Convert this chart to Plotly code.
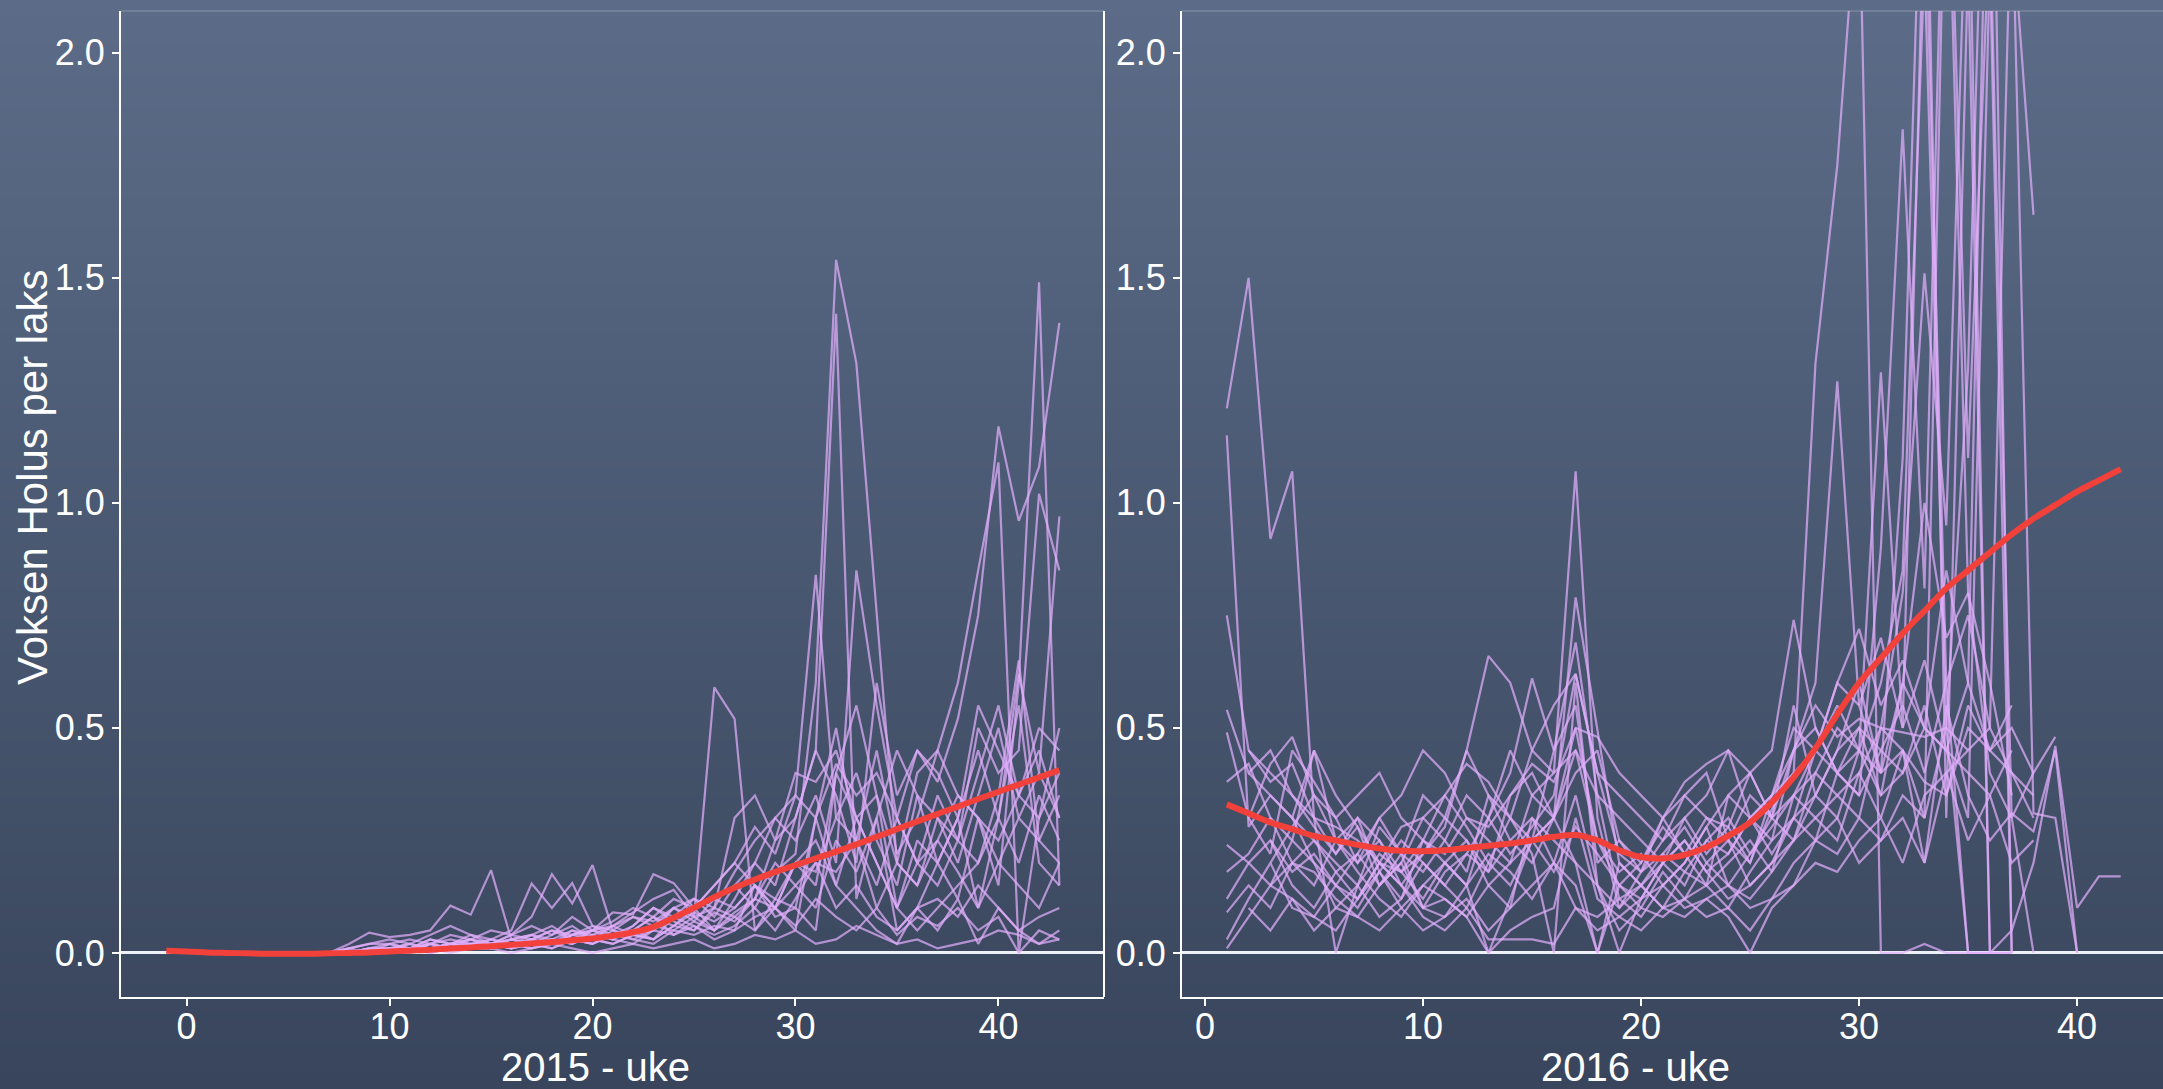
import base64
import struct
import zlib

import plotly.graph_objects as go

# ---------------------------------------------------------------- data
uke_2015 = list(range(7, 44))
uke_2016 = list(range(1, 43))

# loess trend per year
trend_uke_2015 = list(range(-1, 44))
trend_2015 = [0.005, 0.003, 0.001, 0.0, -0.001, -0.002, -0.002, -0.002, -0.001, 0.0,
              0.001, 0.003, 0.005, 0.007, 0.010, 0.012, 0.015, 0.018, 0.021, 0.024,
              0.028, 0.032, 0.038, 0.046, 0.058, 0.078, 0.100, 0.124, 0.145, 0.163,
              0.180, 0.195, 0.210, 0.225, 0.241, 0.258, 0.275, 0.292, 0.309, 0.325,
              0.342, 0.358, 0.374, 0.390, 0.406]
trend_uke_2016 = list(range(1, 43))
trend_2016 = [0.330, 0.310, 0.290, 0.275, 0.260, 0.250, 0.240, 0.232, 0.227, 0.226,
              0.228, 0.233, 0.238, 0.243, 0.250, 0.258, 0.262, 0.250, 0.228, 0.213,
              0.210, 0.218, 0.235, 0.260, 0.290, 0.335, 0.390, 0.455, 0.530, 0.600,
              0.655, 0.710, 0.760, 0.810, 0.850, 0.890, 0.930, 0.965, 0.995, 1.025,
              1.050, 1.075]

# 2015, one list per site, weeks 7..43
lok15_01 = [0, 0, 0.01, 0.01, 0.02, 0.01, 0.02, 0.03, 0.02, 0.01,
            0.02, 0.03, 0.02, 0.04, 0.03, 0.05, 0.08, 0.06, 0.10, 0.12,
            0.15, 0.10, 0.18, 0.22, 0.60, 1.54, 1.31, 0.75, 0.20, 0.15,
            0.30, 0.25, 0.40, 0.55, 0.35, 0.50, 0.45]
lok15_02 = [0, 0, 0, 0.01, 0.01, 0, 0.01, 0.02, 0.01, 0.02,
            0.01, 0.02, 0.04, 0.03, 0.02, 0.04, 0.06, 0.05, 0.08, 0.05,
            0.12, 0.20, 0.15, 0.30, 0.45, 1.42, 0.12, 0.30, 0.05, 0.10,
            0.20, 0.12, 0.30, 0.20, 0.15, 0.10, 0.20]
lok15_03 = [0, 0, 0, 0, 0.01, 0.02, 0.01, 0.01, 0.02, 0.01,
            0.02, 0.01, 0.03, 0.02, 0.05, 0.04, 0.03, 0.06, 0.05, 0.09,
            0.07, 0.12, 0.10, 0.15, 0.20, 0.18, 0.25, 0.15, 0.30, 0.20,
            0.25, 0.35, 0.30, 0.15, 0.60, 1.49, 0.15]
lok15_04 = [0, 0.01, 0.02, 0.02, 0.03, 0.02, 0.04, 0.03, 0.05, 0.04,
            0.06, 0.04, 0.08, 0.05, 0.07, 0.10, 0.08, 0.12, 0.10, 0.15,
            0.20, 0.28, 0.22, 0.35, 0.30, 0.42, 0.35, 0.40, 0.30, 0.45,
            0.38, 0.52, 0.75, 1.17, 0.96, 1.08, 1.40]
lok15_05 = [0, 0, 0.01, 0, 0.01, 0.02, 0.03, 0.02, 0.01, 0.03,
            0.04, 0.02, 0.05, 0.03, 0.06, 0.04, 0.05, 0.10, 0.07, 0.12,
            0.10, 0.15, 0.12, 0.20, 0.18, 0.30, 0.25, 0.45, 0.22, 0.30,
            0.45, 0.60, 0.85, 1.09, 0.00, 0.30, 0.50]
lok15_06 = [0, 0, 0, 0.01, 0.01, 0.01, 0.02, 0.02, 0.03, 0.02,
            0.03, 0.05, 0.04, 0.06, 0.05, 0.08, 0.07, 0.10, 0.12, 0.08,
            0.15, 0.20, 0.30, 0.25, 0.35, 0.20, 0.85, 0.55, 0.30, 0.20,
            0.35, 0.25, 0.50, 0.40, 0.45, 1.02, 0.85]
lok15_07 = [0, 0, 0, 0.01, 0.02, 0.01, 0.02, 0.01, 0.02, 0.03,
            0.02, 0.03, 0.05, 0.04, 0.06, 0.08, 0.06, 0.10, 0.08, 0.59,
            0.52, 0.05, 0.10, 0.20, 0.15, 0.40, 0.30, 0.20, 0.10, 0.25,
            0.20, 0.30, 0.10, 0.20, 0.30, 0.25, 0.35]
lok15_08 = [0, 0, 0.01, 0.01, 0, 0.02, 0.01, 0.03, 0.02, 0.01,
            0.03, 0.02, 0.04, 0.05, 0.03, 0.06, 0.10, 0.08, 0.12, 0.10,
            0.18, 0.25, 0.30, 0.35, 0.84, 0.30, 0.40, 0.25, 0.15, 0.35,
            0.30, 0.20, 0.35, 0.50, 0.30, 0.40, 0.30]
lok15_09 = [0, 0.02, 0.045, 0.035, 0.04, 0.05, 0.105, 0.085, 0.184, 0.03,
            0.04, 0.06, 0.03, 0.05, 0.09, 0.085, 0.175, 0.155, 0.10, 0.05,
            0.08, 0.12, 0.25, 0.30, 0.45, 0.35, 0.20, 0.60, 0.35, 0.45,
            0.40, 0.30, 0.55, 0.45, 0.35, 0.30, 0.40]
lok15_10 = [0, 0.01, 0.02, 0.03, 0.02, 0.04, 0.06, 0.04, 0.03, 0.05,
            0.154, 0.10, 0.155, 0.06, 0.04, 0.05, 0.03, 0.06, 0.09, 0.07,
            0.10, 0.15, 0.10, 0.20, 0.25, 0.15, 0.30, 0.20, 0.10, 0.20,
            0.15, 0.25, 0.20, 0.30, 0.20, 0.35, 0.25]
lok15_11 = [0, 0, 0.01, 0.02, 0.01, 0.03, 0.02, 0.04, 0.02, 0.04,
            0.08, 0.175, 0.11, 0.195, 0.05, 0.03, 0.05, 0.08, 0.06, 0.04,
            0.06, 0.10, 0.05, 0.12, 0.20, 0.10, 0.15, 0.08, 0.05, 0.10,
            0.12, 0.08, 0.15, 0.10, 0.05, 0.08, 0.10]
lok15_12 = [0, 0, 0, 0.01, 0, 0.01, 0.02, 0.01, 0.01, 0.02,
            0.03, 0.02, 0.04, 0.05, 0.06, 0.09, 0.12, 0.14, 0.08, 0.10,
            0.30, 0.35, 0.25, 0.40, 0.38, 0.45, 0.30, 0.35, 0.20, 0.40,
            0.45, 0.35, 0.30, 0.25, 0.35, 0.45, 0.30]
lok15_13 = [0, 0, 0, 0, 0, 0.01, 0, 0.01, 0.01, 0,
            0.01, 0.02, 0.01, 0, 0.01, 0.02, 0.01, 0.02, 0.03, 0.01,
            0.02, 0.04, 0.03, 0.05, 0.02, 0.03, 0.06, 0.04, 0.02, 0.03,
            0.01, 0.02, 0.03, 0.05, 0.04, 0.02, 0.05]
lok15_14 = [0, 0, 0, 0.01, 0.01, 0, 0.01, 0.02, 0.02, 0.01,
            0.02, 0.01, 0.03, 0.02, 0.04, 0.03, 0.02, 0.05, 0.04, 0.06,
            0.05, 0.08, 0.10, 0.06, 0.12, 0.08, 0.05, 0.10, 0.04, 0.08,
            0.06, 0.10, 0.05, 0.08, 0, 0.05, 0.03]
lok15_15 = [0, 0, 0, 0, 0.01, 0.01, 0.02, 0.01, 0.03, 0.02,
            0.01, 0.03, 0.02, 0.04, 0.03, 0.02, 0.05, 0.04, 0.07, 0.05,
            0.09, 0.12, 0.20, 0.15, 0.10, 0.25, 0.18, 0.30, 0.45, 0.35,
            0.20, 0.30, 0.45, 0.30, 0.62, 0.40, 0.97]
lok15_16 = [0, 0.01, 0, 0.02, 0.01, 0.03, 0.02, 0.03, 0.01, 0.02,
            0.04, 0.03, 0.02, 0.05, 0.04, 0.06, 0.10, 0.07, 0.05, 0.10,
            0.08, 0.05, 0.12, 0.10, 0.30, 0.50, 0.25, 0.10, 0.20, 0.15,
            0.25, 0.18, 0.10, 0.30, 0.55, 0.20, 0.15]
lok15_17 = [0, 0, 0, 0.01, 0.01, 0.02, 0.01, 0.02, 0.02, 0.04,
            0.03, 0.05, 0.03, 0.02, 0.04, 0.05, 0.08, 0.04, 0.06, 0.03,
            0.05, 0.15, 0.08, 0.10, 0.05, 0.40, 0.55, 0.35, 0.10, 0.05,
            0.10, 0.15, 0.20, 0.35, 0.65, 0.25, 0.20]
lok15_18 = [0, 0, 0, 0, 0.01, 0, 0.01, 0.01, 0.02, 0.03,
            0.02, 0.04, 0.06, 0.03, 0.02, 0.04, 0.03, 0.08, 0.10, 0.15,
            0.20, 0.15, 0.10, 0.05, 0.30, 0.15, 0.10, 0.05, 0.02, 0.10,
            0.05, 0.12, 0.02, 0.10, 0.05, 0.02, 0.03]

# 2016, one list per site, weeks 1..42 (None = no count that week)
lok16_01 = [1.21, 1.50, 0.92, 1.07, 0.30, 0.22, 0.28, 0.20, 0.15, 0.22,
            0.30, 0.25, 0.18, 0.35, 0.40, 0.30, 0.45, 0.25, 0.15, 0.20,
            0.28, 0.22, 0.30, 0.25, 0.35, 0.30, 0.45, 0.60, 1.27, 0.55,
            0.70, 0.50, 0.65, 0.45, 0.40, 0.35, 0.45, None, None, None,
            None, None]
lok16_02 = [1.15, 0.28, 0.35, 0.30, 0.45, 0.25, 0.20, 0.30, 0.22, 0.18,
            0.25, 0.35, 0.30, 0.22, 0.28, 0.35, 0.62, 0.40, 0.22, 0.18,
            0.25, 0.30, 0.22, 0.28, 0.20, 0.32, 0.40, 1.31, 1.75, 2.40,
            0.0, 0.0, 0.02, 0.0, 0.0, None, None, None, None, None,
            None, None]
lok16_03 = [0.75, 0.45, 0.38, 0.42, 0.30, 0.0, 0.15, 0.22, 0.18, 0.12,
            0.20, 0.15, 0.0, 0.12, 0.25, 0.30, 0.79, 0.50, 0.20, 0.15,
            0.22, 0.18, 0.25, 0.30, 0.22, 0.28, 0.35, 0.40, 0.50, 0.45,
            1.29, 0.50, 2.40, 0.60, 0.0, 0.0, 0.05, 0.20, 0.46, 0.10,
            0.17, 0.17]
lok16_04 = [0.54, 0.40, 0.45, 0.35, 0.28, 0.22, 0.30, 0.25, 0.18, 0.22,
            0.28, 0.45, 0.66, 0.60, 0.45, 0.40, 1.07, 0.30, 0.10, 0.15,
            0.20, 0.25, 0.18, 0.22, 0.30, 0.25, 0.45, 0.50, 0.40, 0.45,
            0.35, 0.40, 0.50, 0.45, 0.30, 2.20, 0.0, None, None, None,
            None, None]
lok16_05 = [0.49, 0.30, 0.42, 0.48, 0.35, 0.30, 0.20, 0.25, 0.15, 0.10,
            0.18, 0.22, 0.30, 0.40, 0.61, 0.45, 0.55, 0.20, 0.25, 0.18,
            0.30, 0.22, 0.15, 0.35, 0.40, 0.30, 0.55, 0.35, 0.45, 0.60,
            0.40, 0.45, 0.30, 2.60, 0.80, 0.40, 0.30, 0.0, None, None,
            None, None]
lok16_06 = [0.38, 0.42, 0.30, 0.25, 0.45, 0.35, 0.28, 0.15, 0.20, 0.30,
            0.25, 0.18, 0.35, 0.30, 0.25, 0.45, 0.69, 0.35, 0.12, 0.08,
            0.15, 0.20, 0.28, 0.15, 0.22, 0.30, 0.25, 0.40, 0.35, 0.30,
            0.50, 0.45, 0.20, 0.55, 0.35, 0.25, 0.31, 0.27, 0.45, 0.0,
            None, None]
lok16_07 = [0.24, 0.20, 0.15, 0.25, 0.20, 0.10, 0.15, 0.08, 0.12, 0.20,
            0.15, 0.10, 0.20, 0.30, 0.22, 0.0, 0.60, 0.15, 0.05, 0.10,
            0.18, 0.12, 0.20, 0.25, 0.15, 0.20, 0.30, 0.25, 0.40, 0.35,
            0.90, 1.83, 0.81, 2.70, 1.10, 2.30, 0.30, 0.40, 0.48, None,
            None, None]
lok16_08 = [0.18, 0.22, 0.30, 0.20, 0.15, 0.25, 0.18, 0.12, 0.08, 0.15,
            0.20, 0.25, 0.15, 0.10, 0.30, 0.20, 0.15, 0.0, 0.20, 0.15,
            0.10, 0.18, 0.15, 0.20, 0.25, 0.18, 0.35, 0.30, 0.25, 0.40,
            0.50, 0.80, 1.51, 0.95, 2.50, 0.0, 0.0, None, None, None,
            None, None]
lok16_09 = [0.12, 0.20, 0.25, 0.15, 0.10, 0.18, 0.22, 0.15, 0.20, 0.10,
            0.08, 0.15, 0.22, 0.18, 0.12, 0.20, 0.35, 0.15, 0.0, 0.12,
            0.20, 0.25, 0.18, 0.12, 0.15, 0.20, 0.25, 0.35, 0.30, 0.45,
            0.40, 1.10, 2.70, 0.30, 2.20, 0.0, 0.0, None, None, None,
            None, None]
lok16_10 = [0.09, 0.15, 0.10, 0.20, 0.18, 0.12, 0.08, 0.15, 0.22, 0.10,
            0.12, 0.08, 0.15, 0.20, 0.25, 0.18, 0.28, 0.22, 0.15, 0.10,
            0.08, 0.12, 0.15, 0.10, 0.18, 0.25, 0.30, 0.35, 0.45, 0.50,
            0.35, 0.60, 0.50, 0.45, 0.60, 2.80, 2.30, 1.64, None, None,
            None, None]
lok16_11 = [0.03, 0.12, 0.20, 0.10, 0.08, 0.05, 0.12, 0.18, 0.10, 0.05,
            0.08, 0.12, 0.05, 0.10, 0.15, 0.20, 0.10, 0.08, 0.12, 0.15,
            0.10, 0.08, 0.12, 0.15, 0.10, 0.12, 0.20, 0.25, 0.22, 0.30,
            0.25, 0.35, 0.30, 0.50, 1.30, 3.00, 0.0, None, None, None,
            None, None]
lok16_12 = [0.01, 0.08, 0.15, 0.12, 0.05, 0.10, 0.08, 0.05, 0.10, 0.15,
            0.12, 0.08, 0.0, 0.05, 0.08, 0.10, 0.30, 0.12, 0.08, 0.05,
            0.10, 0.12, 0.08, 0.10, 0.05, 0.12, 0.15, 0.20, 0.18, 0.25,
            0.30, 0.20, 0.35, 0.40, 0.45, 0.50, 2.40, 0.31, 0.30, 0.0,
            None, None]
lok16_13 = [None, 0.45, 0.40, 0.35, 0.30, 0.28, 0.25, 0.20, 0.18, 0.25,
            0.22, 0.30, 0.28, 0.35, 0.42, 0.38, 0.50, 0.48, 0.40, 0.35,
            0.30, 0.38, 0.42, 0.45, 0.30, 0.35, 0.45, 0.55, 0.48, 0.52,
            0.50, 0.49, 0.48, 0.50, 0.45, None, None, None, None, None,
            None, None]
lok16_14 = [None, 0.30, 0.22, 0.45, 0.38, 0.30, 0.35, 0.40, 0.30, 0.25,
            0.35, 0.42, 0.38, 0.30, 0.45, 0.55, 0.62, 0.40, 0.35, 0.30,
            0.25, 0.35, 0.30, 0.28, 0.40, 0.45, 0.74, 0.50, 0.40, 0.35,
            0.45, 0.55, 0.40, 0.60, 0.75, 0.50, 0.40, 0.35, None, None,
            None, None]
lok16_15 = [None, None, 0.25, 0.18, 0.22, 0.15, 0.10, 0.18, 0.25, 0.20,
            0.15, 0.22, 0.18, 0.25, 0.30, 0.25, 0.20, 0.15, 0.10, 0.18,
            0.22, 0.28, 0.20, 0.15, 0.12, 0.18, 0.25, 0.30, 0.35, 0.40,
            0.30, 0.45, 0.38, 0.35, 0.55, 0.45, 0.50, 0.40, None, None,
            None, None]
lok16_16 = [None, None, None, 0.30, 0.25, 0.20, 0.15, 0.28, 0.22, 0.35,
            0.30, 0.45, 0.35, 0.25, 0.20, 0.30, 0.50, 0.25, 0.18, 0.22,
            0.15, 0.20, 0.28, 0.35, 0.30, 0.22, 0.30, 0.45, 0.60, 0.72,
            0.55, 0.65, 0.50, 0.85, 0.60, 0.45, 0.55, None, None, None,
            None, None]
lok16_17 = [None, 0.10, 0.05, 0.12, 0.08, 0.15, 0.12, 0.20, 0.15, 0.08,
            0.05, 0.10, 0.03, 0.03, 0.03, 0.02, 0.10, 0.05, 0.08, 0.12,
            0.15, 0.10, 0.12, 0.08, 0.0, 0.10, 0.15, 0.25, 0.30, 0.20,
            0.25, 0.30, 0.20, 0.40, 0.25, 0.35, 0.20, 0.25, None, None,
            None, None]
lok16_18 = [None, None, 0.20, 0.28, 0.35, 0.25, 0.30, 0.18, 0.12, 0.25,
            0.20, 0.15, 0.30, 0.45, 0.35, 0.30, 0.40, 0.45, 0.25, 0.20,
            0.30, 0.35, 0.40, 0.25, 0.20, 0.35, 0.50, 0.45, 0.60, 0.55,
            0.40, 0.60, 1.00, 0.70, 0.80, 0.60, 0.35, None, None, None,
            None, None]
lok16_19 = [None, 0.40, 0.35, 0.30, 0.20, 0.15, 0.22, 0.30, 0.35, 0.45,
            0.40, 0.30, 0.25, 0.20, 0.35, 0.40, 0.45, 0.35, 0.30, 0.25,
            0.20, 0.30, 0.35, 0.45, 0.40, 0.30, 0.35, 0.45, 0.40, 0.50,
            0.45, 0.40, 0.55, 0.35, 0.50, 0.45, 0.40, 0.30, None, None,
            None, None]
lok16_20 = [None, None, 0.15, 0.20, 0.25, 0.18, 0.12, 0.20, 0.28, 0.30,
            0.35, 0.28, 0.20, 0.15, 0.25, 0.30, 0.20, 0.0, 0.15, 0.12,
            0.20, 0.15, 0.25, 0.22, 0.30, 0.35, 0.40, 0.45, 0.55, 0.45,
            0.60, 0.85, 2.20, 0.50, 0.0, 0.0, None, None, None, None,
            None, None]

sites_2015 = [lok15_01, lok15_02, lok15_03, lok15_04, lok15_05, lok15_06,
              lok15_07, lok15_08, lok15_09, lok15_10, lok15_11, lok15_12,
              lok15_13, lok15_14, lok15_15, lok15_16, lok15_17, lok15_18]
sites_2016 = [lok16_01, lok16_02, lok16_03, lok16_04, lok16_05, lok16_06,
              lok16_07, lok16_08, lok16_09, lok16_10, lok16_11, lok16_12,
              lok16_13, lok16_14, lok16_15, lok16_16, lok16_17, lok16_18,
              lok16_19, lok16_20]

y_ticks = [0, 0.5, 1.0, 1.5, 2.0]
y_tick_text = ["0.0", "0.5", "1.0", "1.5", "2.0"]
x_ticks = [0, 10, 20, 30, 40]

# ---------------------------------------------------------------- style
W, H = 2163, 1089
FONT = "Liberation Sans, Arial, Helvetica, sans-serif"
SITE_COLOR = "rgba(226,174,252,0.72)"
TREND_COLOR = "#f2413a"
TOP_RGB = (92, 108, 136)
BOTTOM_RGB = (56, 69, 92)


def gradient_png(height, top, bottom, width=2):
    """Tiny vertical-gradient PNG, returned as a data URI."""
    rows = []
    for i in range(height):
        t = i / (height - 1)
        px = bytes(round(top[k] + (bottom[k] - top[k]) * t) for k in range(3))
        rows.append(b"\x00" + px * width)
    raw = b"".join(rows)

    def chunk(tag, data):
        return (struct.pack(">I", len(data)) + tag + data
                + struct.pack(">I", zlib.crc32(tag + data) & 0xFFFFFFFF))

    ihdr = struct.pack(">IIBBBBB", width, height, 8, 2, 0, 0, 0)
    png = (b"\x89PNG\r\n\x1a\n" + chunk(b"IHDR", ihdr)
           + chunk(b"IDAT", zlib.compress(raw, 9)) + chunk(b"IEND", b""))
    return "data:image/png;base64," + base64.b64encode(png).decode()


def px_x(p):
    return p / W


def px_y(p):
    return (H - p) / H


# panel geometry (pixels)
LEFT_X0, LEFT_X1 = 121, 1104
RIGHT_X0, RIGHT_X1 = 1182, 2163
PANEL_TOP, PANEL_BOTTOM = 11, 997

fig = go.Figure()

for vals in sites_2015:
    fig.add_trace(go.Scatter(x=uke_2015, y=vals, mode="lines",
                             line=dict(color=SITE_COLOR, width=2.2),
                             xaxis="x", yaxis="y", hoverinfo="skip"))
fig.add_trace(go.Scatter(x=trend_uke_2015, y=trend_2015, mode="lines",
                         line=dict(color=TREND_COLOR, width=6, shape="spline", smoothing=1.0),
                         xaxis="x", yaxis="y", hoverinfo="skip"))

for vals in sites_2016:
    fig.add_trace(go.Scatter(x=uke_2016, y=vals, mode="lines",
                             line=dict(color=SITE_COLOR, width=2.2),
                             xaxis="x2", yaxis="y2", hoverinfo="skip"))
fig.add_trace(go.Scatter(x=trend_uke_2016, y=trend_2016, mode="lines",
                         line=dict(color=TREND_COLOR, width=6, shape="spline", smoothing=1.0),
                         xaxis="x2", yaxis="y2", hoverinfo="skip"))

axis_common = dict(showline=True, linecolor="white", linewidth=2,
                   ticks="outside", ticklen=7, tickwidth=2, tickcolor="white",
                   tickfont=dict(family=FONT, size=36, color="white"),
                   showgrid=False, automargin=False, fixedrange=True)

y_domain = [px_y(PANEL_BOTTOM), px_y(PANEL_TOP)]
y_range = [-0.098, 2.093]

fig.update_layout(
    width=W, height=H,
    margin=dict(l=0, r=0, t=0, b=0),
    paper_bgcolor="#48556f",
    plot_bgcolor="rgba(0,0,0,0)",
    showlegend=False,
    font=dict(family=FONT, color="white"),
    xaxis=dict(domain=[px_x(LEFT_X0), px_x(LEFT_X1)], range=[-3.23, 45.2],
               tickvals=x_ticks, zeroline=False, anchor="y",
               ticklabelstandoff=-10, **axis_common),
    yaxis=dict(domain=y_domain, range=y_range, tickvals=y_ticks, ticktext=y_tick_text,
               zeroline=True, zerolinecolor="#eef2f8", zerolinewidth=2.5,
               anchor="x", **axis_common),
    xaxis2=dict(domain=[px_x(RIGHT_X0), px_x(RIGHT_X1)], range=[-1.055, 43.94],
                tickvals=x_ticks, zeroline=False, anchor="y2",
                ticklabelstandoff=-10, **axis_common),
    yaxis2=dict(domain=y_domain, range=y_range, tickvals=y_ticks, ticktext=y_tick_text,
                zeroline=True, zerolinecolor="#eef2f8", zerolinewidth=2.5,
                anchor="x2", **axis_common),
    images=[dict(source=gradient_png(H, TOP_RGB, BOTTOM_RGB), xref="paper", yref="paper",
                 x=0, y=1, sizex=1, sizey=1, sizing="stretch",
                 xanchor="left", yanchor="top", layer="below")],
    shapes=[
        # right edge of the 2015 panel
        dict(type="line", xref="paper", yref="paper",
             x0=px_x(LEFT_X1), x1=px_x(LEFT_X1), y0=px_y(PANEL_BOTTOM), y1=px_y(PANEL_TOP),
             line=dict(color="white", width=2)),
        # faint upper edges of both panels
        dict(type="line", xref="paper", yref="paper",
             x0=px_x(LEFT_X0), x1=px_x(LEFT_X1), y0=px_y(PANEL_TOP), y1=px_y(PANEL_TOP),
             line=dict(color="rgba(255,255,255,0.18)", width=1.5)),
        dict(type="line", xref="paper", yref="paper",
             x0=px_x(RIGHT_X0), x1=px_x(RIGHT_X1), y0=px_y(PANEL_TOP), y1=px_y(PANEL_TOP),
             line=dict(color="rgba(255,255,255,0.18)", width=1.5)),
    ],
    annotations=[
        dict(text="Voksen Holus per laks", xref="paper", yref="paper",
             x=px_x(32), y=px_y(477), textangle=-90, showarrow=False,
             xanchor="center", yanchor="middle",
             font=dict(family=FONT, size=42, color="white")),
        dict(text="2015 - uke", xref="paper", yref="paper",
             x=px_x(595), y=px_y(1067), showarrow=False, borderpad=0,
             xanchor="center", yanchor="middle",
             font=dict(family=FONT, size=40, color="white")),
        dict(text="2016 - uke", xref="paper", yref="paper",
             x=px_x(1635), y=px_y(1067), showarrow=False, borderpad=0,
             xanchor="center", yanchor="middle",
             font=dict(family=FONT, size=40, color="white")),
    ],
)

fig.write_html("out.html")
